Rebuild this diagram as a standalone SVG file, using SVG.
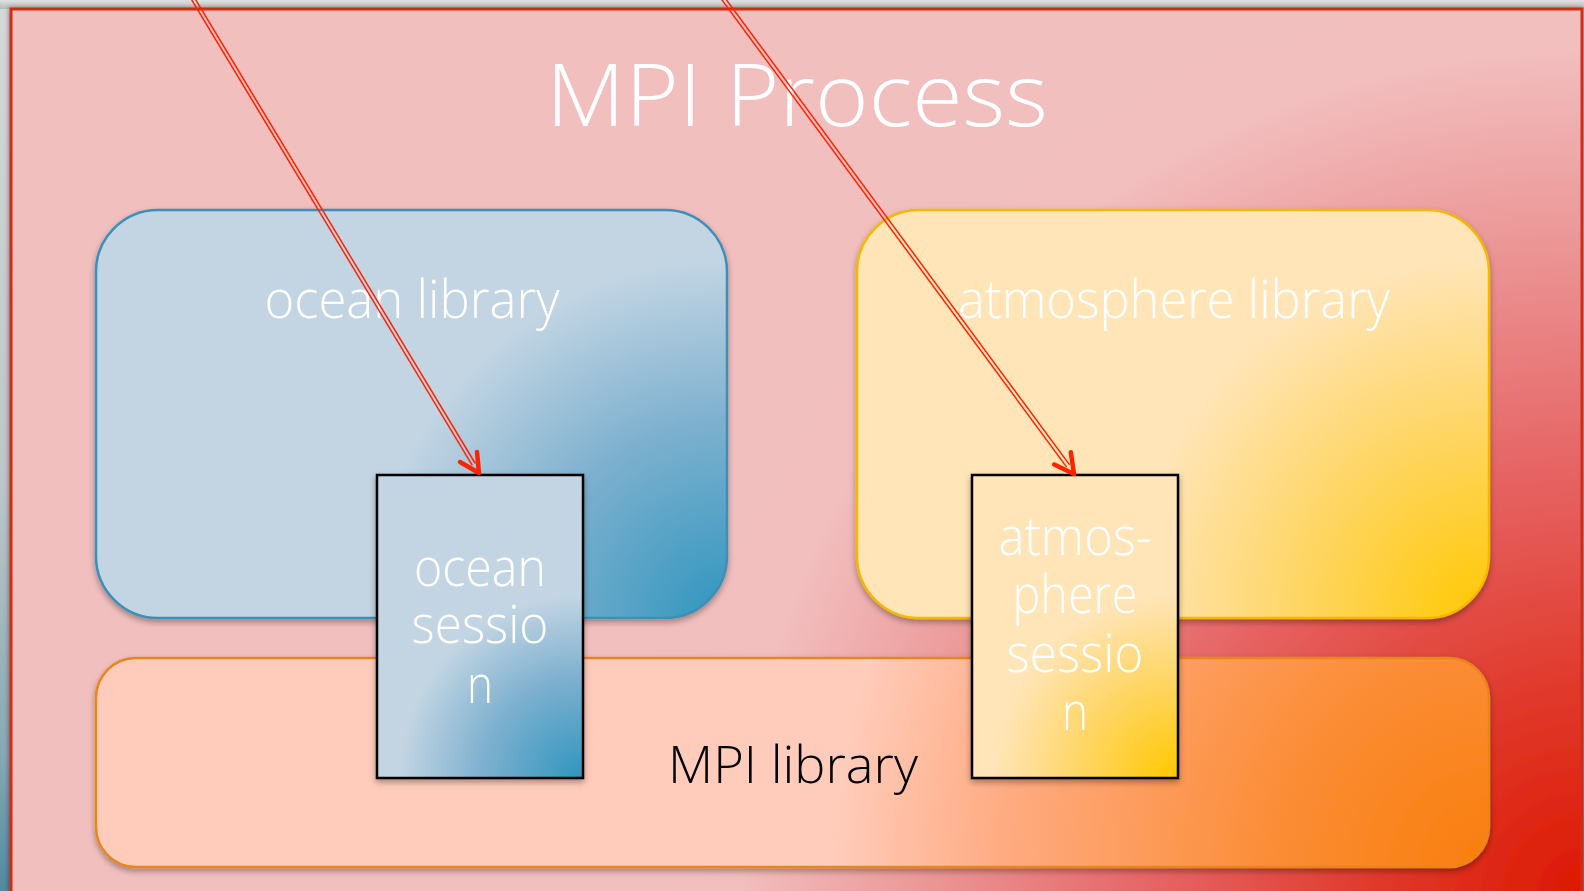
<svg xmlns="http://www.w3.org/2000/svg" width="1584" height="891" viewBox="0 0 1584 891">
  <defs>
    <linearGradient id="gLeft" x1="0" y1="0" x2="0" y2="1">
      <stop offset="0" stop-color="#d6d9d9"/>
      <stop offset="0.55" stop-color="#bcc6c8"/>
      <stop offset="0.85" stop-color="#86a8b4"/>
      <stop offset="1" stop-color="#4f8aa2"/>
    </linearGradient>
    <linearGradient id="gTop" x1="0" y1="0" x2="0" y2="1">
      <stop offset="0" stop-color="#dfe2e2"/>
      <stop offset="1" stop-color="#b4b9b9"/>
    </linearGradient>
    <radialGradient id="gMain" gradientUnits="userSpaceOnUse" cx="1584" cy="895" r="960">
      <stop offset="0" stop-color="#dc1800"/>
      <stop offset="0.22" stop-color="#e03a2c"/>
      <stop offset="0.45" stop-color="#e66565"/>
      <stop offset="0.7" stop-color="#ec9a9a"/>
      <stop offset="0.88" stop-color="#f2bebe"/>
      <stop offset="1" stop-color="#f2bfbf"/>
    </radialGradient>
    <radialGradient id="gOcean" gradientUnits="userSpaceOnUse" cx="727" cy="618" r="390">
      <stop offset="0" stop-color="#2f95be"/>
      <stop offset="0.5" stop-color="#7db0ce"/>
      <stop offset="0.92" stop-color="#c3d5e3"/>
      <stop offset="1" stop-color="#c3d5e3"/>
    </radialGradient>
    <radialGradient id="gAtm" gradientUnits="userSpaceOnUse" cx="1489" cy="618" r="390">
      <stop offset="0" stop-color="#ffc800"/>
      <stop offset="0.5" stop-color="#fed666"/>
      <stop offset="0.92" stop-color="#ffe5b8"/>
      <stop offset="1" stop-color="#ffe5b8"/>
    </radialGradient>
    <radialGradient id="gMpi" gradientUnits="userSpaceOnUse" cx="1489" cy="867" r="690">
      <stop offset="0" stop-color="#f97e0c"/>
      <stop offset="0.3" stop-color="#fb8c34"/>
      <stop offset="0.7" stop-color="#ffaa80"/>
      <stop offset="0.95" stop-color="#ffccbb"/>
      <stop offset="1" stop-color="#ffccbb"/>
    </radialGradient>
    <radialGradient id="gOceanS" gradientUnits="userSpaceOnUse" cx="583" cy="778" r="200">
      <stop offset="0" stop-color="#2f95be"/>
      <stop offset="0.5" stop-color="#7db0ce"/>
      <stop offset="0.92" stop-color="#c3d5e3"/>
      <stop offset="1" stop-color="#c3d5e3"/>
    </radialGradient>
    <radialGradient id="gAtmS" gradientUnits="userSpaceOnUse" cx="1178" cy="778" r="200">
      <stop offset="0" stop-color="#ffc800"/>
      <stop offset="0.5" stop-color="#fed666"/>
      <stop offset="0.92" stop-color="#ffe5b8"/>
      <stop offset="1" stop-color="#ffe5b8"/>
    </radialGradient>
    <filter id="shadow" x="-10%" y="-10%" width="120%" height="125%">
      <feDropShadow dx="0" dy="3" stdDeviation="3" flood-color="#000" flood-opacity="0.35"/>
    </filter>
    <filter id="shadowMain" x="-2%" y="-2%" width="104%" height="104%">
      <feDropShadow dx="-1" dy="0" stdDeviation="2" flood-color="#000" flood-opacity="0.35"/>
    </filter>
  </defs>
  <style>
    .lbl { font-family: "Open Sans", "Liberation Sans", sans-serif; font-weight: 300; fill: #ffffff; text-anchor: middle; }
    .lib { stroke-width: 2.5; filter: url(#shadow); }
    .sess { stroke: #000000; stroke-width: 2.5; filter: url(#shadow); }
    .dbl { stroke: #ff2200; stroke-width: 1.5; fill: none; }
    .head { stroke: #ff2200; stroke-width: 4.5; fill: none; stroke-linecap: round; stroke-linejoin: round; }
  </style>

  <!-- outer background -->
  <rect x="0" y="0" width="1584" height="891" fill="url(#gLeft)"/>
  <rect x="0" y="0" width="1584" height="9" fill="url(#gTop)"/>

  <g id="mpi-process">
    <rect x="11" y="9" width="1571" height="900" fill="url(#gMain)" stroke="#d42a12" stroke-width="3" filter="url(#shadowMain)"/>
    <text class="lbl" x="797" y="126" font-size="87" textLength="502" lengthAdjust="spacingAndGlyphs">MPI Process</text>
  </g>

  <g id="ocean-library">
    <rect class="lib" x="96" y="210" width="631" height="408" rx="62" ry="62" fill="url(#gOcean)" stroke="#3a90b8"/>
    <text class="lbl" x="412" y="318" font-size="54" textLength="295" lengthAdjust="spacingAndGlyphs">ocean library</text>
  </g>

  <g id="atmosphere-library">
    <rect class="lib" x="857" y="210" width="632" height="408" rx="62" ry="62" fill="url(#gAtm)" stroke="#f5b800"/>
    <text class="lbl" x="1174" y="318" font-size="54" textLength="432" lengthAdjust="spacingAndGlyphs">atmosphere library</text>
  </g>

  <g id="mpi-library">
    <rect class="lib" x="96" y="658" width="1393" height="209" rx="40" ry="40" fill="url(#gMpi)" stroke="#e8861e"/>
    <text x="793" y="783" font-family="'Open Sans', 'Liberation Sans', sans-serif" font-weight="300" font-size="51" fill="#000000" text-anchor="middle" textLength="250" lengthAdjust="spacingAndGlyphs">MPI library</text>
  </g>

  <g id="ocean-session">
    <rect class="sess" x="377" y="475" width="206" height="303" fill="url(#gOceanS)"/>
    <text class="lbl" x="480" y="586" font-size="54" textLength="132" lengthAdjust="spacingAndGlyphs">ocean</text>
    <text class="lbl" x="480" y="643" font-size="54" textLength="137" lengthAdjust="spacingAndGlyphs">sessio</text>
    <text class="lbl" x="480" y="703" font-size="54" textLength="26" lengthAdjust="spacingAndGlyphs">n</text>
  </g>

  <g id="atmosphere-session">
    <rect class="sess" x="972" y="475" width="206" height="303" fill="url(#gAtmS)"/>
    <text class="lbl" x="1075" y="555" font-size="54" textLength="153" lengthAdjust="spacingAndGlyphs">atmos-</text>
    <text class="lbl" x="1075" y="613" font-size="54" textLength="125" lengthAdjust="spacingAndGlyphs">phere</text>
    <text class="lbl" x="1075" y="672" font-size="54" textLength="137" lengthAdjust="spacingAndGlyphs">sessio</text>
    <text class="lbl" x="1075" y="730" font-size="54" textLength="26" lengthAdjust="spacingAndGlyphs">n</text>
  </g>

  <g id="connectors">
    <g id="arrow-ocean">
      <line class="dbl" x1="193.5" y1="-3.9" x2="475.3" y2="463.5"/>
      <line class="dbl" x1="190.5" y1="-2.1" x2="472.3" y2="465.3"/>
      <polyline class="head" points="460,462 479,473 477,452"/>
    </g>
    <g id="arrow-atmosphere">
      <line class="dbl" x1="723.5" y1="-4.1" x2="1069.6" y2="464.9"/>
      <line class="dbl" x1="720.6" y1="-1.9" x2="1066.7" y2="467.1"/>
      <polyline class="head" points="1054.2,464.5 1074,474 1070.8,452.2"/>
    </g>
  </g>
</svg>
